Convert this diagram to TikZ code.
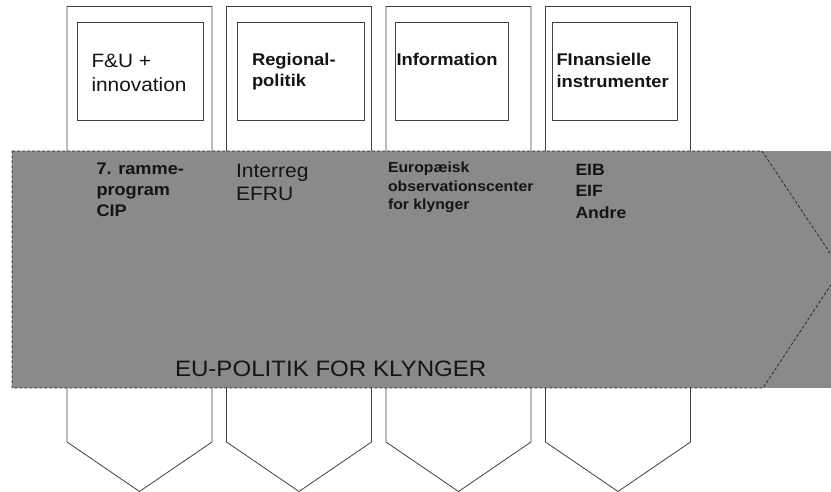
\documentclass[tikz,border=0pt]{standalone}
\usepackage{fontspec}
\setmainfont{Liberation Sans}[FakeStretch=1.08]
\begin{document}
\begin{tikzpicture}[x=1pt,y=-1pt,
  outline/.style={draw=black!75, line width=0.8pt},
  colshape/.style={outline, fill=white},
  innerbox/.style={outline, fill=white},
  bandfill/.style={fill=black!46},
  bandedge/.style={draw=black!85, line width=0.8pt, dash pattern=on 3pt off 2pt},
  lbl/.style={anchor=north west, inner sep=0pt, outer sep=0pt, align=left, text=black!92},
  fs/.style 2 args={font=\fontsize{#1}{#2}\selectfont},
  fb/.style 2 args={font=\fontsize{#1}{#2}\selectfont\bfseries}]
\useasboundingbox (0,0) rectangle (831,492);

% four downward pointing columns
\foreach \L in {67,226.5,386,545.5}{
  \draw[colshape] (\L,6.5) -- (\L+145,6.5) -- (\L+145,442) -- (\L+72.5,491.5)
        -- (\L,442) -- cycle;
}

% title boxes inside the columns
\draw[innerbox] (77,22) rectangle (203,120);
\draw[innerbox] (237,22) rectangle (364,120);
\draw[innerbox] (395,22) rectangle (508,120);
\draw[innerbox] (552,22) rectangle (677,120);

\node[lbl, fs={19.3}{23.4}] (t1) at (91.5,54.5) {F\&U +\\innovation};
\node[lbl, fb={17}{21}] (t2) at (252,52.7) {Regional-\\politik};
\node[lbl, fb={17}{21}] (t3) at (396.5,53.3) {Information};
\node[lbl, fb={17}{21.7}] (t4) at (556.5,53) {FInansielle\\instrumenter};

% the policy band with its arrow outline
\fill[bandfill] (12,151) rectangle (831,388);
\draw[bandedge] (12,151) -- (762,151) -- (841,269.5) -- (763,388) -- (12,388) -- cycle;

\node[lbl, fb={16.8}{21}] (b1) at (96.5,163) {7. ramme-\\program\\CIP};
\node[lbl, fs={19.5}{23.5}] (b2) at (236,164) {Interreg\\EFRU};
\node[lbl, fb={14.6}{18.5}] (b3) at (388,162) {Europæisk\\observationscenter\\for klynger};
\node[lbl, fb={16.3}{21.5}] (b4) at (575.5,164) {EIB\\EIF\\Andre};

\node[lbl, fs={22.3}{26}] (band) at (175,360.7) {EU-POLITIK FOR KLYNGER};
\end{tikzpicture}
\end{document}
